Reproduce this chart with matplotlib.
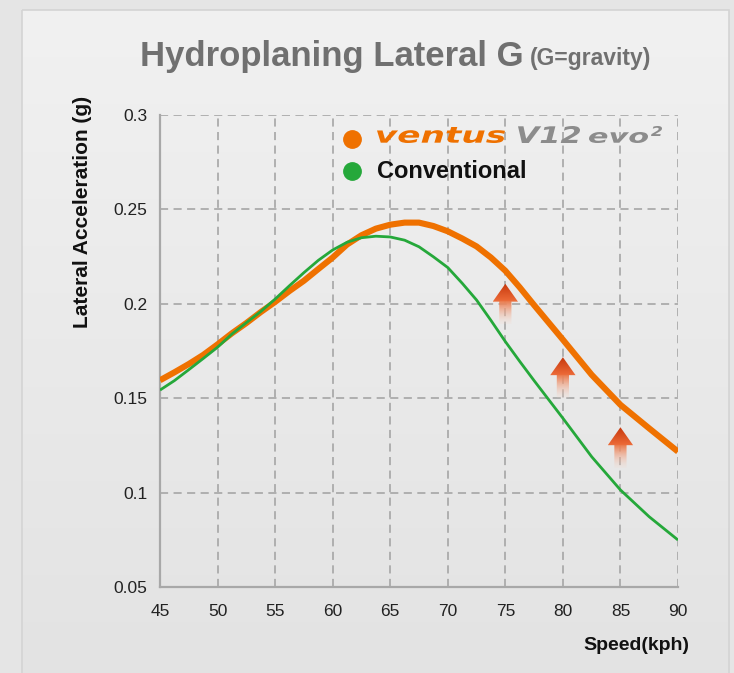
import numpy as np
import matplotlib
matplotlib.use("Agg")
import matplotlib.pyplot as plt
from matplotlib.patches import Polygon, PathPatch, Rectangle
from matplotlib.textpath import TextPath
from matplotlib.font_manager import FontProperties
from matplotlib.transforms import Affine2D


# -------------------------------------------------
# Data
# -------------------------------------------------

speed = [45, 46.25, 47.5, 48.75, 50, 51.25, 52.5, 53.75, 55, 56.25,
         57.5, 58.75, 60, 61.25, 62.5, 63.75, 65, 66.25, 67.5, 68.75,
         70, 71.25, 72.5, 73.75, 75, 76.25, 77.5, 80, 82.5, 85,
         87.5, 90]

ventus = [0.1595, 0.1637, 0.1681, 0.1729, 0.1785, 0.1844, 0.1898,
          0.1956, 0.2010, 0.2068, 0.2122, 0.2184, 0.2245, 0.2314,
          0.2363, 0.2398, 0.2419, 0.2430, 0.2430, 0.2412, 0.2384,
          0.2346, 0.2304, 0.2245, 0.2175, 0.2087, 0.1993, 0.1810,
          0.1624, 0.1465, 0.1340, 0.1217]

conventional = [0.1543, 0.1593, 0.1651, 0.1710, 0.1770, 0.1840, 0.1900,
                0.1959, 0.2025, 0.2096, 0.2165, 0.2230, 0.2285, 0.2326,
                0.2350, 0.2358, 0.2354, 0.2337, 0.2302, 0.2249, 0.2192,
                0.2109, 0.2020, 0.1912, 0.1800, 0.1695, 0.1593, 0.1394,
                0.1190, 0.1014, 0.0872, 0.0749]

arrow_speeds = [75, 80, 85]
arrow_tips = [0.2106, 0.1717, 0.1346]

x_ticks = [45, 50, 55, 60, 65, 70, 75, 80, 85, 90]
y_ticks = [0.05, 0.1, 0.15, 0.2, 0.25, 0.3]
y_tick_labels = ["0.05", "0.1", "0.15", "0.2", "0.25", "0.3"]

ORANGE = "#ef7100"
GREEN = "#25a83a"
W, H = 734, 673

plt.rcParams["font.family"] = ["Liberation Sans", "DejaVu Sans"]

fig = plt.figure(figsize=(W / 100, H / 100), dpi=100)
fig.patch.set_facecolor("#e5e5e5")

# -------------------------------------------------
# Panel background
# -------------------------------------------------

bg = fig.add_axes([0, 0, 1, 1], zorder=-5)
bg.axis("off")

grad = np.linspace(0, 1, 256)[:, None]
top_c = np.array([0.945, 0.945, 0.945])
bot_c = np.array([0.890, 0.890, 0.890])
img = top_c + (bot_c - top_c) * grad
img = np.repeat(img[:, None, :], 2, axis=1)
bg.imshow(img, extent=[22, 729, H, 10], aspect="auto", zorder=1)
bg.add_patch(Rectangle((22, 10), 707, H, fill=False,
                       edgecolor="#d4d4d4", lw=1.2, zorder=2))
bg.set_xlim(0, W)
bg.set_ylim(H, 0)

# -------------------------------------------------
# Main axes
# -------------------------------------------------

ax = fig.add_axes([160 / W, 1 - 587 / H, 518 / W, 472 / H])
ax.set_facecolor("none")

ax.plot(speed, ventus, color=ORANGE, lw=4.4,
        solid_capstyle="butt", solid_joinstyle="round", zorder=4)
ax.plot(speed, conventional, color=GREEN, lw=2.0,
        solid_capstyle="butt", solid_joinstyle="round", zorder=5)

# arrows with a fading gradient
head_w = 1.1
shaft_w = 0.53
head_h = 0.0095
total_h = 0.0215

n_rows = 80
arrow_img = np.zeros((n_rows, 1, 4))
split = head_h / total_h
for i in range(n_rows):
    t = i / (n_rows - 1.0)
    if t < split:
        u = t / split
        c0 = np.array([0.78, 0.22, 0.05])
        c1 = np.array([0.93, 0.42, 0.22])
        arrow_img[i, 0, :3] = c0 + (c1 - c0) * u
        arrow_img[i, 0, 3] = 1.0
    else:
        u = (t - split) / (1 - split)
        c0 = np.array([0.92, 0.48, 0.30])
        c1 = np.array([0.97, 0.85, 0.80])
        arrow_img[i, 0, :3] = c0 + (c1 - c0) * u
        arrow_img[i, 0, 3] = 1.0 - 0.85 * u

for sx, tip in zip(arrow_speeds, arrow_tips):
    base = tip - head_h
    bottom = tip - total_h
    pts = [
        (sx, tip),
        (sx + head_w, base),
        (sx + shaft_w, base),
        (sx + shaft_w, bottom),
        (sx - shaft_w, bottom),
        (sx - shaft_w, base),
        (sx - head_w, base),
    ]
    poly = Polygon(pts, closed=True, facecolor="none",
                   edgecolor="none")
    ax.add_patch(poly)
    im = ax.imshow(arrow_img,
                   extent=[sx - head_w, sx + head_w, bottom, tip],
                   aspect="auto", zorder=3, interpolation="bilinear")
    im.set_clip_path(poly)

ax.set_xlim(45, 90)
ax.set_ylim(0.05, 0.3)
ax.set_xticks(x_ticks)
ax.set_xticklabels([str(v) for v in x_ticks])
ax.set_yticks(y_ticks)
ax.set_yticklabels(y_tick_labels)
ax.tick_params(length=0, labelsize=12.5, colors="#222222")
ax.tick_params(axis="x", pad=12)
ax.tick_params(axis="y", pad=9)

ax.grid(True, color="#ababab", lw=1.3, linestyle=(0, (4.5, 3)))
ax.set_axisbelow(True)

for side in ["top", "right"]:
    ax.spines[side].set_visible(False)
for side in ["left", "bottom"]:
    ax.spines[side].set_color("#a8a8a8")
    ax.spines[side].set_linewidth(1.6)

# -------------------------------------------------
# Titles and labels
# -------------------------------------------------

fig.text(140 / W, 1 - 66 / H, "Hydroplaning Lateral G",
         fontsize=25, fontweight="bold", color="#707070",
         ha="left", va="baseline")
fig.text(530 / W, 1 - 65 / H, "(G=gravity)",
         fontsize=16.5, fontweight="bold", color="#707070",
         ha="left", va="baseline")

fig.text(83 / W, 1 - 212 / H, "Lateral Acceleration (g)",
         fontsize=15, fontweight="bold", color="#111111",
         rotation=90, ha="center", va="center")

fig.text(689 / W, 1 - 650 / H, "Speed(kph)",
         fontsize=14, fontweight="bold", color="#111111",
         ha="right", va="baseline")

# -------------------------------------------------
# Legend (drawn by hand)
# -------------------------------------------------

fig.add_artist(plt.Line2D([352 / W], [1 - 139 / H], marker="o",
                          markersize=12.5, color=ORANGE,
                          transform=fig.transFigure))
fig.add_artist(plt.Line2D([352 / W], [1 - 171 / H], marker="o",
                          markersize=12.5, color=GREEN,
                          transform=fig.transFigure))

fig.text(377 / W, 1 - 178.3 / H, "Conventional",
         fontsize=17, fontweight="bold", color="#111111",
         ha="left", va="baseline")

logo_prop = FontProperties(family="DejaVu Sans", weight="bold",
                           style="oblique")


def logo_piece(text, box, color):
    """Fit a text outline into a pixel box (x0, y0, x1, y1)."""
    path = TextPath((0, 0), text, size=10, prop=logo_prop)
    ext = path.get_extents()
    x0, y0, x1, y1 = box
    sx = (x1 - x0) / ext.width
    sy = (y1 - y0) / ext.height
    tr = (Affine2D()
          .translate(-ext.x0, -ext.y0)
          .scale(sx / W, sy / H)
          .translate(x0 / W, 1 - y1 / H))
    fig.add_artist(PathPatch(tr.transform_path(path),
                             transform=fig.transFigure,
                             facecolor=color, lw=0))


logo_piece("ventus", (377, 127, 505, 143), ORANGE)
logo_piece("V12", (518, 126, 580, 143), "#8c8c8c")
logo_piece("evo", (589, 132, 648, 143), "#8c8c8c")
logo_piece("2", (651, 126, 662, 136), "#8c8c8c")

fig.savefig("out.png", dpi=100)
